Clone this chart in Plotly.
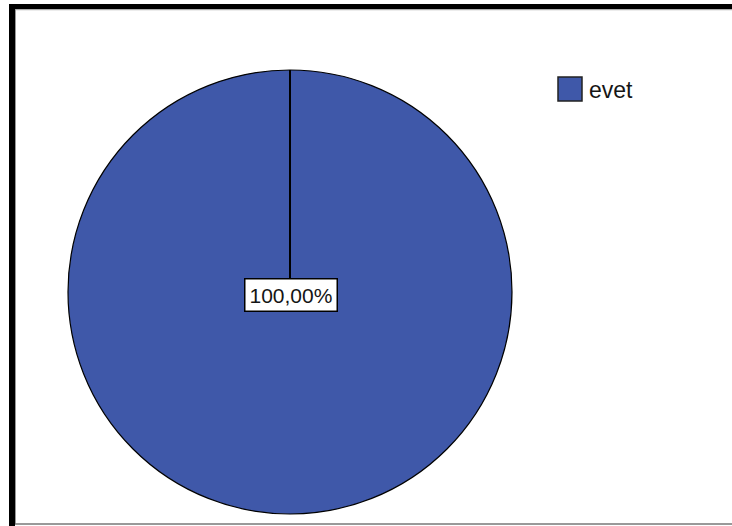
import plotly.graph_objects as go

labels = ["evet"]
values = [100.0]
label_texts = ["100,00%"]
colors = ["#3F58A9"]

W, H = 732, 526
def px(x): return x / W
def py(y): return 1 - y / H

cx, cy, r = 290, 292, 222

fig = go.Figure()
fig.add_trace(go.Pie(
    labels=labels, values=values, sort=False, direction="clockwise", rotation=0,
    marker=dict(colors=colors, line=dict(color="black", width=1.2)),
    textinfo="none", hoverinfo="label+percent", showlegend=False,
    domain=dict(x=[px(cx - r), px(cx + r)], y=[py(cy + r), py(cy - r)]),
))

shapes = [
    # frame
    dict(type="rect", xref="paper", yref="paper", x0=px(9), x1=px(15), y0=0, y1=py(4),
         fillcolor="black", line=dict(width=0), layer="above"),
    dict(type="rect", xref="paper", yref="paper", x0=px(9), x1=1, y0=py(9), y1=py(4),
         fillcolor="black", line=dict(width=0), layer="above"),
    dict(type="line", xref="paper", yref="paper", x0=px(15.5), x1=px(15.5), y0=py(524), y1=py(9),
         line=dict(color="#999999", width=1)),
    dict(type="line", xref="paper", yref="paper", x0=px(15), x1=1, y0=py(9.7), y1=py(9.7),
         line=dict(color="#999999", width=1)),
    dict(type="line", xref="paper", yref="paper", x0=px(15), x1=1, y0=py(524), y1=py(524),
         line=dict(color="#777777", width=1.5)),
    # slice boundary from center to top
    dict(type="line", xref="paper", yref="paper", x0=px(cx), x1=px(cx), y0=py(cy), y1=py(cy - r),
         line=dict(color="black", width=2)),
    # legend swatch
    dict(type="rect", xref="paper", yref="paper", x0=px(558), x1=px(582), y0=py(101), y1=py(77),
         fillcolor=colors[0], line=dict(color="#222222", width=1.5)),
]

annotations = [
    dict(x=px(cx + 1), y=py(294.5), xref="paper", yref="paper", text=label_texts[0], showarrow=False,
         font=dict(family="Liberation Sans, Arial", size=21, color="#151515"),
         bgcolor="white", bordercolor="black", borderwidth=1.5, borderpad=4,
         xanchor="center", yanchor="middle"),
    dict(x=px(587), y=py(90), xref="paper", yref="paper", text=labels[0], showarrow=False,
         font=dict(family="Liberation Sans, Arial", size=23, color="#151515"),
         xanchor="left", yanchor="middle"),
]

fig.update_layout(
    width=W, height=H, margin=dict(l=0, r=0, t=0, b=0),
    paper_bgcolor="white", plot_bgcolor="white",
    shapes=shapes, annotations=annotations,
)

fig.write_html("out.html")
